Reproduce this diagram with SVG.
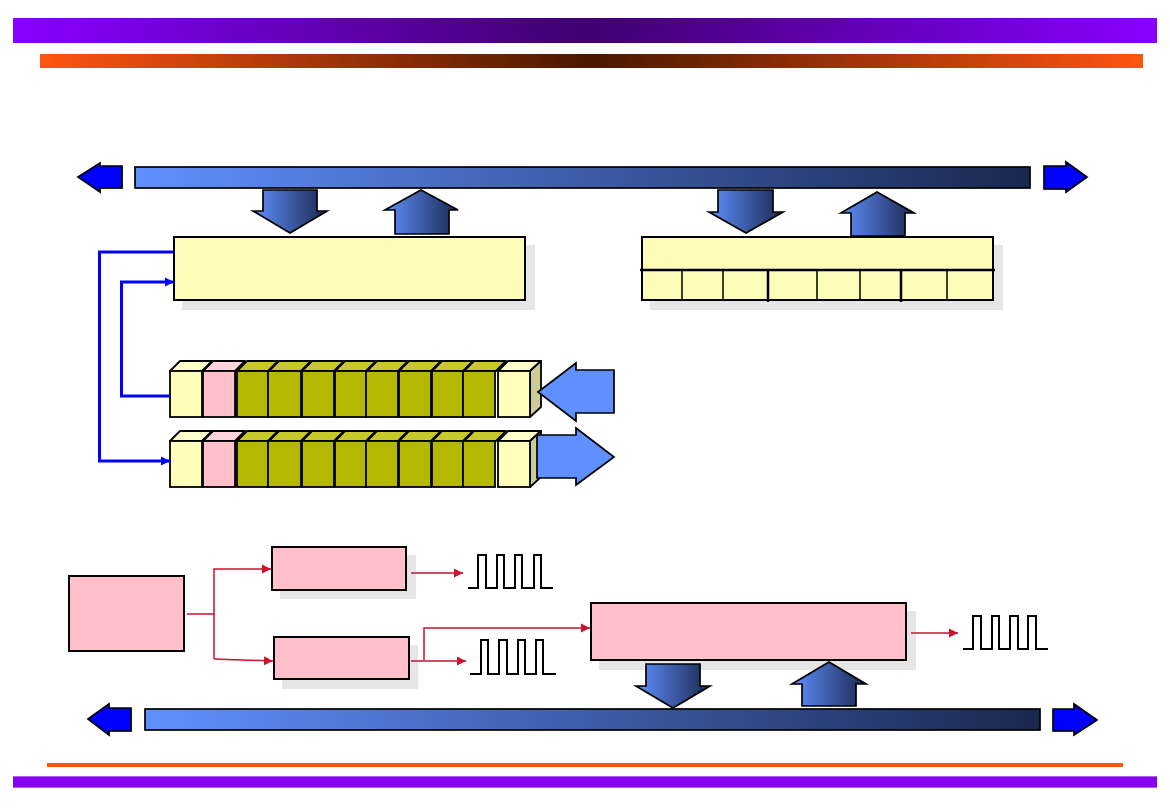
<svg xmlns="http://www.w3.org/2000/svg" xmlns:xlink="http://www.w3.org/1999/xlink" width="1170" height="810" viewBox="0 0 1170 810">
  <style>
    .box { stroke: #000; stroke-width: 2; }
    .cream { fill: #fdfdb9; }
    .pink { fill: #ffc0cb; }
    .shadow { fill: #e6e6e6; stroke: none; }
    .tick { stroke: #000; stroke-width: 1.5; fill: none; }
    .tick-b { stroke: #000; stroke-width: 2.5; fill: none; }
    .bus { fill: url(#busFill); stroke: #000; stroke-width: 1.7; }
    .flow { fill: url(#busFill); stroke: #000; stroke-width: 1.7; stroke-linejoin: miter; }
    .end { fill: #0000ff; stroke: #000; stroke-width: 1.7; }
    .end-shade { fill: #9a9a9a; stroke: none; }
    .big { fill: #6090ff; stroke: #000; stroke-width: 1.7; }
    .wire-blue { fill: none; stroke: #0000ff; stroke-width: 3; }
    .wire-red { fill: none; stroke: #cc1133; stroke-width: 1.5; }
    .pulse { fill: none; stroke: #000; stroke-width: 2; }
    .front { stroke: #000; stroke-width: 1.8; }
    .face { stroke: #000; stroke-width: 1.8; stroke-linejoin: round; }
    .c { fill: #ffffbb; }
    .p { fill: #ffc0cb; }
    .o { fill: #b4b800; }
    .ct { fill: #ffffcc; }
    .pt { fill: #ffd4da; }
    .ot { fill: #c6c82c; }
  </style>
  <defs>
    <linearGradient id="topBar"><stop offset="0" stop-color="#8800ff"/><stop offset="0.5" stop-color="#400070"/><stop offset="1" stop-color="#8800ff"/></linearGradient>
    <linearGradient id="subBar"><stop offset="0" stop-color="#ff5511"/><stop offset="0.5" stop-color="#4a1700"/><stop offset="1" stop-color="#ff5511"/></linearGradient>
    <linearGradient id="busFill"><stop offset="0" stop-color="#6090ff"/><stop offset="1" stop-color="#1a2850"/></linearGradient>
    <marker id="headBlue" markerUnits="userSpaceOnUse" markerWidth="10" markerHeight="12" refX="9" refY="6" orient="auto"><path d="M0 1.500L9 6L0 10.500Z" fill="#0000ff"/></marker>
    <marker id="headRed" markerUnits="userSpaceOnUse" markerWidth="10" markerHeight="12" refX="9" refY="6" orient="auto"><path d="M0 1.500L9 6L0 10.500Z" fill="#cc1133"/></marker>

    <!-- one row of queue cells, back faces first -->
    <g id="queueRow">
      <path class="face ct" d="M170 371L180 361H212L202 371Z"/>
      <path class="face pt" d="M203 371L213 361H245L235 371Z"/>
      <path class="face ot" d="M237 371L247 361H278L268 371Z"/>
      <path class="face ot" d="M269 371L279 361H311L301 371Z"/>
      <path class="face ot" d="M302 371L312 361H344L334 371Z"/>
      <path class="face ot" d="M335 371L345 361H376L366 371Z"/>
      <path class="face ot" d="M367 371L377 361H408L398 371Z"/>
      <path class="face ot" d="M399 371L409 361H441L431 371Z"/>
      <path class="face ot" d="M432 371L442 361H473L463 371Z"/>
      <path class="face ot" d="M464 371L474 361H506L496 371Z"/>
      <path class="face ct" d="M498 371L508 361H541L530 371Z"/>
      <path class="face" fill="#cccc99" d="M530 371L541 361V407L530 417Z"/>
      <rect x="234.500" y="371" width="3" height="46" fill="#806060"/>
      <rect class="front c" x="170" y="371" width="32" height="46"/>
      <rect class="front p" x="203" y="371" width="32" height="46"/>
      <rect class="front o" x="237" y="371" width="31" height="46"/>
      <rect class="front o" x="268" y="371" width="33" height="46"/>
      <rect class="front o" x="302" y="371" width="32" height="46"/>
      <rect class="front o" x="335" y="371" width="31" height="46"/>
      <rect class="front o" x="366" y="371" width="32" height="46"/>
      <rect class="front o" x="399" y="371" width="32" height="46"/>
      <rect class="front o" x="432" y="371" width="31" height="46"/>
      <rect class="front o" x="463" y="371" width="32" height="46"/>
      <rect class="front c" x="498" y="371" width="32" height="46"/>
    </g>
  </defs>

  <rect width="1170" height="810" fill="#fff"/>

  <!-- page bands -->
  <g id="bands">
    <rect x="13" y="18" width="1144" height="25" fill="url(#topBar)"/>
    <rect x="40" y="54" width="1103" height="14" fill="url(#subBar)"/>
    <rect x="47" y="763" width="1076" height="4" fill="#ff5511"/>
    <rect x="13" y="776" width="1144" height="12" fill="#b660f0"/>
    <rect x="13" y="777" width="1144" height="10" fill="#8800f0"/>
  </g>

  <!-- upper bus and its end arrows -->
  <g id="bus-upper">
    <path class="end-shade" d="M79 178L101 164V167H123V189H101V194Z"/>
    <path class="end" d="M78 177L100 163V166H122V188H100V192Z"/>
    <rect class="bus" x="135" y="167" width="895" height="21"/>
    <path class="end-shade" d="M1044 190V168H1066V164L1087 178L1066 193V190Z"/>
    <path class="end" d="M1044 189V166H1066V162L1087 177L1066 192V189Z"/>
  </g>

  <!-- lower bus and its end arrows -->
  <g id="bus-lower">
    <path class="end-shade" d="M89 720L110 705V709H132V732H110V736Z"/>
    <path class="end" d="M88 719L109 704V708H131V731H109V735Z"/>
    <rect class="bus" x="145" y="709" width="895" height="21"/>
    <path class="end-shade" d="M1053 732V710H1074V705L1097 721L1074 736V732Z"/>
    <path class="end" d="M1053 731V709H1074V704L1097 720L1074 735V731Z"/>
  </g>

  <g id="reg-a">
    <rect class="shadow" x="182" y="245" width="353" height="65"/>
    <rect class="box cream" x="174" y="237" width="351" height="63"/>
  </g>

  <g id="reg-b">
    <rect class="shadow" x="650" y="245" width="353" height="65"/>
    <rect class="box cream" x="642" y="237" width="351" height="63"/>
    <path class="tick-b" d="M640 270H995"/>
    <path class="tick" d="M682 270V300M723 270V300M817 270V301M860 270V301M947 270V301"/>
    <path class="tick-b" d="M768 270V302M901 270V302"/>
  </g>

  <g id="flow-a-in"><path class="flow" d="M263 190H317V211H327L290 233L253 211H263Z"/></g>
  <g id="flow-a-out"><path class="flow" d="M421 190L458 210H449V234H395V210H385Z"/></g>
  <g id="flow-b-in"><path class="flow" d="M718 190H773V212H783L746 233L709 212H718Z"/></g>
  <g id="flow-b-out"><path class="flow" d="M877 192L914 213H905V236H851V213H841Z"/></g>

  <g id="queue-in"><use xlink:href="#queueRow" href="#queueRow"/></g>
  <g id="queue-out"><use xlink:href="#queueRow" href="#queueRow" y="70"/></g>

  <g id="data-in"><path class="big" d="M538 392L576 363V370H614V413H576V421Z"/></g>
  <g id="data-out"><path class="big" d="M537 435H576V428L614 457L576 485V478H537Z"/></g>

  <g id="clock-src"><rect class="box pink" x="69" y="576" width="115" height="75"/></g>
  <g id="div-a">
    <rect class="shadow" x="280" y="555" width="136" height="44"/>
    <rect class="box pink" x="272" y="547" width="134" height="43"/>
  </g>
  <g id="div-b">
    <rect class="shadow" x="282" y="645" width="136" height="44"/>
    <rect class="box pink" x="274" y="637" width="135" height="42"/>
  </g>
  <g id="sampler">
    <rect class="shadow" x="599" y="611" width="317" height="59"/>
    <rect class="box pink" x="591" y="603" width="315" height="57"/>
  </g>

  <g id="flow-c-in"><path class="flow" d="M646 664H700V686H710L673 708L636 686H646Z"/></g>
  <g id="flow-c-out"><path class="flow" d="M829 662L866 684H856V706H802V684H792Z"/></g>

  <g id="wave-a"><path class="pulse" d="M468 588H478V555H486V588H497V555H504V588H515V555H522V588H534V555H541V588H553"/></g>
  <g id="wave-b"><path class="pulse" d="M470 674H481V640H488V674H499V640H507V674H518V640H525V674H536V640H543V674H556"/></g>
  <g id="wave-c"><path class="pulse" d="M963 649H973V616H981V649H992V616H999V649H1010V616H1018V649H1028V616H1036V649H1048"/></g>

  <!-- connectors -->
  <g id="connectors">
    <path class="wire-blue" d="M174 252H99.500V461H170" marker-end="url(#headBlue)"/>
    <path class="wire-blue" d="M170 396H121.500V282H174" marker-end="url(#headBlue)"/>
    <path class="wire-red" d="M187 614H214"/>
    <path class="wire-red" d="M214 659V569H271" marker-end="url(#headRed)"/>
    <path class="wire-red" d="M214 659L273 661" marker-end="url(#headRed)"/>
    <path class="wire-red" d="M411 573H463" marker-end="url(#headRed)"/>
    <path class="wire-red" d="M411 661H466" marker-end="url(#headRed)"/>
    <path class="wire-red" d="M424 660V628H590" marker-end="url(#headRed)"/>
    <path class="wire-red" d="M911 633H958" marker-end="url(#headRed)"/>
  </g>
</svg>
